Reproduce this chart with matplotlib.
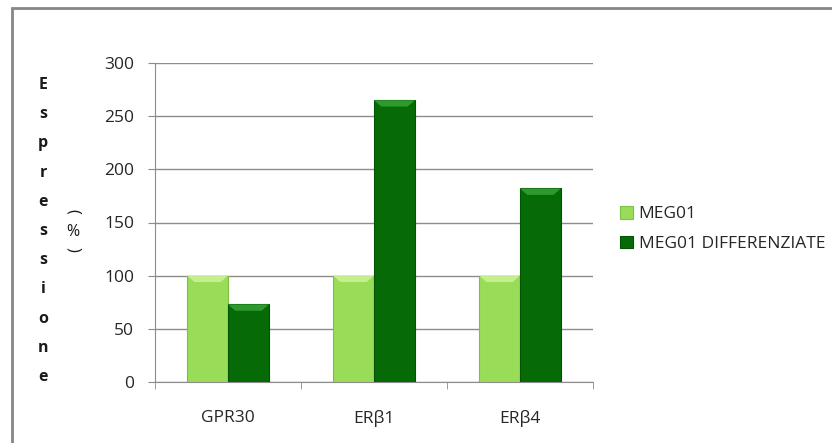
import matplotlib
matplotlib.use("Agg")
import matplotlib.pyplot as plt
from matplotlib.patches import Rectangle, Polygon
import numpy as np

categories = ["GPR30", "ERβ1", "ERβ4"]
meg01 = [100, 100, 100]
meg01_diff = [73, 265, 182]
series_names = ["MEG01", "MEG01 DIFFERENZIATE"]

light = "#99dc58"
light_top = "#c4ef8c"
dark = "#066b06"
dark_top = "#2e9a2e"
grid_col = "#8c8c8c"
txt = "#262626"

plt.rcParams["font.family"] = ["Open Sans", "DejaVu Sans"]

fig = plt.figure(figsize=(8.32, 4.43), dpi=100)
W, H = 832, 443

# outer chart border (only top/left visible in the reference)
fig.patches.append(Rectangle((12 / W, -0.1), 1.2, (443 - 8) / H + 0.1,
                             transform=fig.transFigure, fill=False,
                             edgecolor="#868686", linewidth=2))

ax = fig.add_axes([155 / W, (443 - 382) / H, 438 / W, 319 / H])

x = np.arange(len(categories))
bw = 0.28


def bevel(xs, vals, top):
    for xi, v in zip(xs, vals):
        # small lighter top face to mimic the beveled look
        d = 0.05
        h = min(6.0, v * 0.3)
        ax.add_patch(Polygon([(xi - bw / 2, v), (xi + bw / 2, v),
                              (xi + bw / 2 - d, v - h), (xi - bw / 2 + d, v - h)],
                             closed=True, facecolor=top, edgecolor="none", zorder=4))


b1 = ax.bar(x - bw / 2, meg01, bw, color=light, edgecolor="#7fbf45",
            linewidth=0.8, zorder=3, label=series_names[0])
b2 = ax.bar(x + bw / 2, meg01_diff, bw, color=dark, edgecolor="#045204",
            linewidth=0.8, zorder=3, label=series_names[1])
bevel(x - bw / 2, meg01, light_top)
bevel(x + bw / 2, meg01_diff, dark_top)

ax.set_xlim(-0.5, 2.5)
ax.set_ylim(0, 300)
ax.set_yticks(np.arange(0, 301, 50))
ax.yaxis.grid(True, color=grid_col, linewidth=1)
ax.set_axisbelow(True)

ax.set_xticks(x)
ax.set_xticklabels(categories, fontsize=12.5, color=txt)
ax.set_xticks([-0.5, 0.5, 1.5, 2.5], minor=True)
ax.tick_params(axis="x", which="major", length=0, pad=20)
ax.tick_params(axis="x", which="minor", length=5, color=grid_col, direction="out")
ax.tick_params(axis="y", length=5, color=grid_col, labelsize=12.5,
               labelcolor=txt, pad=10)

for s in ["top", "right"]:
    ax.spines[s].set_visible(False)
ax.spines["left"].set_color(grid_col)
ax.spines["bottom"].set_color(grid_col)

# stacked vertical y label
word = "Espressione"
ys = np.linspace(85, 377, len(word))
for ch, yy in zip(word, ys):
    fig.text(43 / W, 1 - yy / H, ch, fontsize=11.5, fontweight="bold",
             ha="center", va="center", color="#1a1a1a")
fig.text(73 / W, 1 - 211 / H, "(", rotation=-90, fontsize=12,
         ha="center", va="center", color="#1a1a1a")
fig.text(73 / W, 1 - 232 / H, "%", fontsize=11.5,
         ha="center", va="center", color="#1a1a1a")
fig.text(73 / W, 1 - 249 / H, ")", rotation=-90, fontsize=12,
         ha="center", va="center", color="#1a1a1a")

fig.legend(handles=[b1, b2], labels=series_names, loc="center left",
           bbox_to_anchor=(604 / W, 1 - 229 / H), frameon=False,
           fontsize=12.5, handlelength=0.75, handleheight=0.75,
           handletextpad=0.35, labelspacing=0.75, labelcolor=txt)

fig.savefig("out.png", dpi=100)
